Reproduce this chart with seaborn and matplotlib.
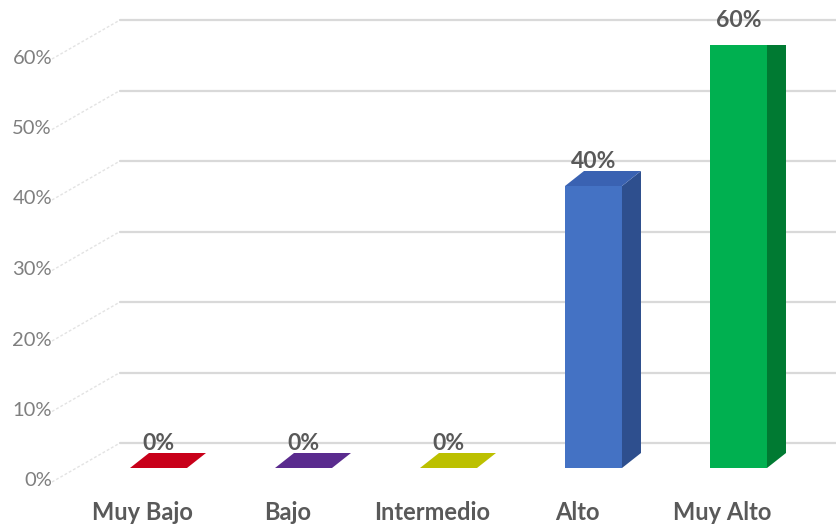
import matplotlib
matplotlib.use("Agg")
import matplotlib.pyplot as plt
import numpy as np
import pandas as pd
import seaborn as sns
from matplotlib.patches import Polygon
from matplotlib.lines import Line2D

# Chart data
categories = ["Muy Bajo", "Bajo", "Intermedio", "Alto", "Muy Alto"]
values = [0.0, 0.0, 0.0, 0.40, 0.60]
front_colors = ["#c8001a", "#5a2b8e", "#bcc000", "#4472c4", "#00b050"]
top_colors = ["#c8001a", "#5a2b8e", "#bcc000", "#3a62b2", "#009c44"]
side_colors = ["#8a0012", "#3d1d62", "#8a8c00", "#2e4f8e", "#007a32"]
y_ticks = [0.0, 0.1, 0.2, 0.3, 0.4, 0.5, 0.6]
y_tick_labels = ["0%", "10%", "20%", "30%", "40%", "50%", "60%"]

sns.set_theme(style="white")
plt.rcParams["font.family"] = ["Lato", "DejaVu Sans"]

W, H = 836, 528
fig = plt.figure(figsize=(W / 100, H / 100), dpi=100)
fig.patch.set_facecolor("white")

# Plot area: one category = 145 px, 60 % = 423 px
ax = fig.add_axes([86 / W, 60 / H, 725 / W, 423 / H])

df = pd.DataFrame({"nivel": categories, "valor": values})
sns.barplot(data=df, x="nivel", y="valor", hue="nivel", palette=front_colors,
            width=0.393, saturation=1, linewidth=0, legend=False, ax=ax, zorder=3)
ax.set_xlim(-0.5, 4.5)
ax.set_ylim(0, 0.6)
ax.axis("off")

PX_X = 1 / 145.0      # data units per horizontal pixel
PX_Y = 0.6 / 423.0    # data units per vertical pixel


def off(dx_px, dy_px):
    return dx_px * PX_X, dy_px * PX_Y


# 3D depth of the bars and of the chart floor / wall
bar_dx, bar_dy = off(19, 15)
wall_front_dx, wall_front_dy = off(-16, -14)   # floor front edge relative to bar front
wall_back_dx, wall_back_dy = off(34, 25)       # back wall relative to bar front

grid_col = "#d9d9d9"
x_left_back = -0.5 + wall_back_dx
x_right = 4.5 + 25 * PX_X
for v, lab in zip(y_ticks, y_tick_labels):
    # side-wall diagonal
    ax.add_line(Line2D([-0.5 - wall_back_dx, x_left_back],
                       [v + wall_front_dy, v + wall_back_dy],
                       color="#e3e3e3", lw=1.0, ls=(0, (2, 1.5)), clip_on=False, zorder=1))
    # back-wall gridline
    ax.add_line(Line2D([x_left_back, x_right], [v + wall_back_dy, v + wall_back_dy],
                       color=grid_col, lw=1.6, clip_on=False, zorder=1))
    ax.text(-0.5 - 34 * PX_X, v + wall_front_dy + 1 * PX_Y, lab,
            ha="right", va="center", fontsize=14.5, color="#7f7f7f", clip_on=False)

# Side and top faces of each bar, built from the drawn rectangles
for i, p in enumerate(ax.patches):
    x0, w, h = p.get_x(), p.get_width(), p.get_height()
    if h > 0:
        ax.add_patch(Polygon([(x0 + w, 0), (x0 + w + bar_dx, bar_dy),
                              (x0 + w + bar_dx, h + bar_dy), (x0 + w, h)],
                             closed=True, fc=side_colors[i], ec="none", zorder=3))
    ax.add_patch(Polygon([(x0, h), (x0 + w, h), (x0 + w + bar_dx, h + bar_dy),
                          (x0 + bar_dx, h + bar_dy)],
                         closed=True, fc=top_colors[i], ec="none", zorder=4))
    ax.text(x0 + w / 2, h + bar_dy - 1 * PX_Y, f"{values[i] * 100:.0f}%",
            ha="center", va="bottom", fontsize=16.5, fontweight="bold",
            color="#595959", zorder=5, clip_on=False)

# Category names along the floor front edge
for i, name in enumerate(categories):
    ax.text(i + wall_front_dx, -44 * PX_Y, name, ha="center", va="center",
            fontsize=17, fontweight="bold", color="#595959", clip_on=False)

fig.savefig("out.png", dpi=100, facecolor="white")
